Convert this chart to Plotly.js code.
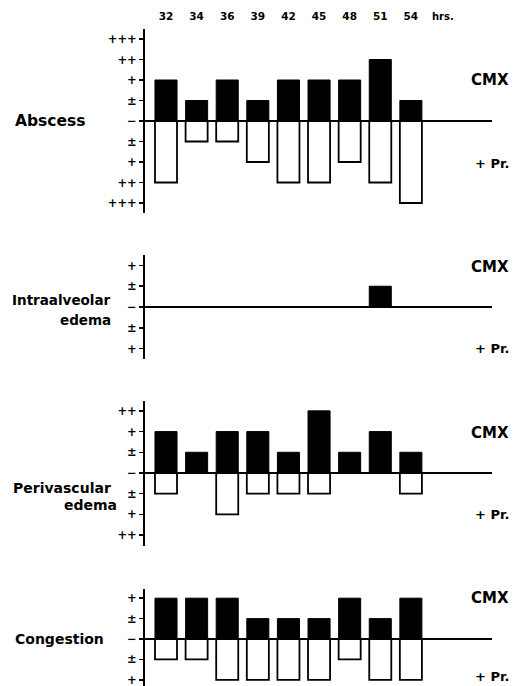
<!DOCTYPE html>
<html>
<head>
<meta charset="utf-8">
<script src="https://cdn.plot.ly/plotly-3.0.1.min.js"></script>
<style>html,body{margin:0;padding:0;background:#fff;}#chart{width:531px;height:686px;}</style>
</head>
<body>
<div id="chart"></div>
<script>
// Time points (hours)
var hours = ["32", "34", "36", "39", "42", "45", "48", "51", "54"];
// Grades: 0 = −, 1 = ±, 2 = +, 3 = ++, 4 = +++
var abscessCMX = [2, 1, 2, 1, 2, 2, 2, 3, 1];
var abscessPr  = [3, 1, 1, 2, 3, 3, 2, 3, 4];
var intraCMX   = [0, 0, 0, 0, 0, 0, 0, 1, 0];
var intraPr    = [0, 0, 0, 0, 0, 0, 0, 0, 0];
var periCMX    = [2, 1, 2, 2, 1, 3, 1, 2, 1];
var periPr     = [1, 0, 2, 1, 1, 1, 0, 0, 1];
var congCMX    = [2, 2, 2, 1, 1, 1, 2, 1, 2];
var congPr     = [1, 1, 2, 2, 2, 2, 1, 2, 2];
var gradeLabels = ["−", "±", "+", "++", "+++"];

var W = 531, H = 686, L = 145, R = 39;
var PW = W - L - R;
function px(x) { return (x - L) / PW; }
function py(y) { return 1 - y / H; }

var idx = hours.map(function (_, i) { return i; });
var FONT = "DejaVu Sans";

function barTraces(cmx, pr, yax) {
  return [
    { type: "bar", x: idx, y: cmx, yaxis: yax, xaxis: "x", width: 0.72,
      marker: { color: "#000", line: { color: "#000", width: 1 } }, hoverinfo: "skip" },
    { type: "bar", x: idx, y: pr.map(function (v) { return -v; }), yaxis: yax, xaxis: "x", width: 0.72,
      marker: { color: "#fff", line: { color: "#000", width: 1.8 } }, hoverinfo: "skip" }
  ];
}

function yAxis(maxLevel, range, domain) {
  var vals = [], txt = [];
  for (var v = -maxLevel; v <= maxLevel; v++) {
    vals.push(v);
    txt.push(gradeLabels[Math.abs(v)]);
  }
  return {
    domain: domain, range: range, anchor: "x",
    tickmode: "array", tickvals: vals, ticktext: txt,
    ticks: "outside", ticklen: 4, tickwidth: 1.5, tickcolor: "#000",
    tickfont: { family: FONT, size: 11.5, color: "#000", weight: "bold" },
    ticklabeloverflow: "allow",
    showline: true, linecolor: "#000", linewidth: 2,
    showgrid: false,
    zeroline: true, zerolinecolor: "#000", zerolinewidth: 2,
    automargin: false,
    fixedrange: true
  };
}

var data = []
  .concat(barTraces(abscessCMX, abscessPr, "y"))
  .concat(barTraces(intraCMX, intraPr, "y2"))
  .concat(barTraces(periCMX, periPr, "y3"))
  .concat(barTraces(congCMX, congPr, "y4"));

function lab(text, x, y, anchor, size) {
  return { text: text, xref: "paper", yref: "paper", x: x, y: y, xanchor: anchor, yanchor: "middle",
           showarrow: false, font: { family: FONT, size: size, color: "#000", weight: "bold" } };
}

var annotations = [
  { text: "hrs.", xref: "x", yref: "paper", x: 8.62, y: py(16), xanchor: "left", yanchor: "middle",
    showarrow: false, font: { family: FONT, size: 10, color: "#000", weight: "bold" } },
  lab("Abscess", px(13), py(121), "left", 15.5),
  lab("Intraalveolar", px(113), py(300), "right", 13.5),
  lab("edema", px(113), py(320), "right", 13.5),
  lab("Perivascular", px(113), py(488), "right", 14),
  lab("edema", px(119), py(505), "right", 14),
  lab("Congestion", px(13), py(639), "left", 14),
  lab("CMX", px(511), py(80), "right", 15),
  lab("+ Pr.", px(511), py(163), "right", 13),
  lab("CMX", px(511), py(267), "right", 15),
  lab("+ Pr.", px(511), py(348), "right", 13),
  lab("CMX", px(511), py(433), "right", 15),
  lab("+ Pr.", px(511), py(514), "right", 13),
  lab("CMX", px(511), py(598), "right", 15),
  lab("+ Pr.", px(511), py(676), "right", 13)
];

var layout = {
  width: W, height: H,
  margin: { l: L, r: R, t: 0, b: 0 },
  paper_bgcolor: "#fff", plot_bgcolor: "rgba(0,0,0,0)",
  showlegend: false, barmode: "overlay",
  xaxis: {
    domain: [0, 1], range: [-0.686, 10.65], anchor: "free", position: py(22), side: "top",
    tickmode: "array", tickvals: idx, ticktext: hours, ticks: "",
    tickfont: { family: FONT, size: 10.5, color: "#000", weight: "bold" },
    showline: false, showgrid: false, zeroline: false, automargin: false, fixedrange: true
  },
  yaxis: yAxis(4, [-4.5, 4.5], [py(213.25), py(28.75)]),
  yaxis2: yAxis(2, [-2.5, 2.5], [py(358.9), py(255.1)]),
  yaxis3: yAxis(3, [-3.5, 3.5], [py(545.5), py(400.5)]),
  yaxis4: yAxis(2, [-2.3, 2.45], [0, py(589)]),
  annotations: annotations
};

Plotly.newPlot("chart", data, layout, { displayModeBar: false, staticPlot: true });
</script>
</body>
</html>
